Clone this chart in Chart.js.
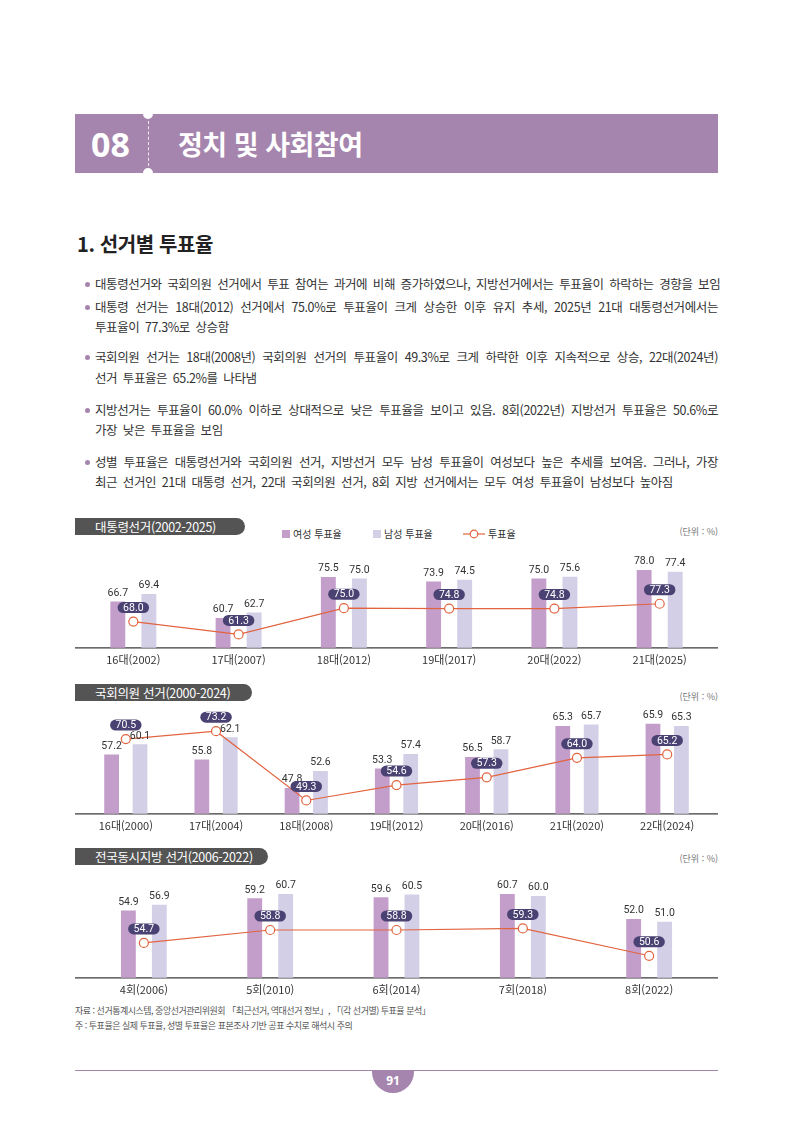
<!DOCTYPE html>
<html lang="ko">
<head>
<meta charset="utf-8">
<title>정치 및 사회참여</title>
<script src="https://cdn.jsdelivr.net/npm/chart.js@4.4.1/dist/chart.umd.min.js"></script>
<style>
  body { margin: 0; background: #fff; font-family: "Noto Sans CJK KR", sans-serif; color: #333; }
  .page { position: relative; width: 794px; height: 1123px; overflow: hidden; }
  .abs { position: absolute; }
  .band { left: 75px; top: 114px; width: 643px; height: 59px; background: #a585ad; }
  .notch { width: 10px; height: 10px; border-radius: 50%; background: #fff; left: 143px; }
  .dash { left: 148px; top: 121px; height: 45px; border-left: 1px dashed #f3eaf5; }
  .num { left: 91px; top: 120px; font-family: "Noto Sans", sans-serif; font-weight: 700; font-size: 34px; line-height: 48px; color: #fff; }
  .title { left: 178px; top: 124px; font-weight: 700; font-size: 27px; line-height: 40px; color: #fff; letter-spacing: -0.5px; }
  .heading { left: 77px; top: 230px; font-weight: 700; font-size: 20px; line-height: 28px; color: #222; letter-spacing: -0.4px; }
  .line { left: 95px; width: 623px; height: 20px; line-height: 20px; font-size: 12.5px; letter-spacing: -0.4px; word-spacing: 2.5px; white-space: nowrap; color: #333; }
  .full { text-align: justify; text-align-last: justify; }
  .dot { left: 85px; width: 5px; height: 5px; border-radius: 50%; background: #a585ad; }
  .tag { left: 75px; height: 17px; background: #545454; color: #fff; font-size: 12.5px; line-height: 17px; padding-left: 20px; box-sizing: border-box; border-radius: 0 9px 9px 0; letter-spacing: -0.3px; }
  .unit { right: 76px; font-size: 9px; color: #777; line-height: 12px; }
  .legend { top: 528px; font-size: 10px; line-height: 12px; color: #333; }
  .sw { width: 8px; height: 8px; top: 530px; }
  .note { left: 75px; font-size: 9px; line-height: 12px; color: #555; letter-spacing: -0.5px; }
  .chartbox { left: 75px; width: 643px; }
</style>
</head>
<body>
<div class="page">
  <div class="abs band"></div>
  <div class="abs notch" style="top:109px"></div>
  <div class="abs notch" style="top:168px"></div>
  <div class="abs dash"></div>
  <div class="abs num">08</div>
  <div class="abs title">정치 및 사회참여</div>

  <div class="abs heading">1. 선거별 투표율</div>

  <div class="abs dot" style="top:281.5px"></div>
  <div class="abs line full" style="top:274px">대통령선거와 국회의원 선거에서 투표 참여는 과거에 비해 증가하였으나, 지방선거에서는 투표율이 하락하는 경향을 보임</div>

  <div class="abs dot" style="top:304.5px"></div>
  <div class="abs line full" style="top:297px">대통령 선거는 18대(2012) 선거에서 75.0%로 투표율이 크게 상승한 이후 유지 추세, 2025년 21대 대통령선거에서는</div>
  <div class="abs line" style="top:317px">투표율이 77.3%로 상승함</div>

  <div class="abs dot" style="top:354.5px"></div>
  <div class="abs line full" style="top:347px">국회의원 선거는 18대(2008년) 국회의원 선거의 투표율이 49.3%로 크게 하락한 이후 지속적으로 상승, 22대(2024년)</div>
  <div class="abs line" style="top:368px">선거 투표율은 65.2%를 나타냄</div>

  <div class="abs dot" style="top:407.5px"></div>
  <div class="abs line full" style="top:400px">지방선거는 투표율이 60.0% 이하로 상대적으로 낮은 투표율을 보이고 있음. 8회(2022년) 지방선거 투표율은 50.6%로</div>
  <div class="abs line" style="top:420px">가장 낮은 투표율을 보임</div>

  <div class="abs dot" style="top:459.5px"></div>
  <div class="abs line full" style="top:452px">성별 투표율은 대통령선거와 국회의원 선거, 지방선거 모두 남성 투표율이 여성보다 높은 추세를 보여옴. 그러나, 가장</div>
  <div class="abs line" style="top:472px">최근 선거인 21대 대통령 선거, 22대 국회의원 선거, 8회 지방 선거에서는 모두 여성 투표율이 남성보다 높아짐</div>

  <!-- 대통령선거 -->
  <div class="abs tag" style="top:518px;width:170px">대통령선거(2002-2025)</div>
  <div class="abs sw" style="left:282px;background:#c49ecb"></div>
  <div class="abs legend" style="left:293px">여성 투표율</div>
  <div class="abs sw" style="left:373px;background:#d3cfe7"></div>
  <div class="abs legend" style="left:384px">남성 투표율</div>
  <svg class="abs" style="left:462px;top:529px" width="24" height="10"><line x1="1" y1="5" x2="23" y2="5" stroke="#e2643f" stroke-width="1.2"/><circle cx="12" cy="5" r="3.8" fill="#fff" stroke="#e2643f" stroke-width="1.2"/></svg>
  <div class="abs legend" style="left:488px">투표율</div>
  <div class="abs unit" style="top:526px">(단위 : %)</div>
  <div class="abs chartbox" style="top:540px;height:131px"><canvas id="presChart"></canvas></div>

  <!-- 국회의원 선거 -->
  <div class="abs tag" style="top:684px;width:177px">국회의원 선거(2000-2024)</div>
  <div class="abs unit" style="top:691px">(단위 : %)</div>
  <div class="abs chartbox" style="top:700px;height:137px"><canvas id="assemChart"></canvas></div>

  <!-- 전국동시지방 선거 -->
  <div class="abs tag" style="top:848px;width:193px">전국동시지방 선거(2006-2022)</div>
  <div class="abs unit" style="top:853px">(단위 : %)</div>
  <div class="abs chartbox" style="top:868px;height:133px"><canvas id="localChart"></canvas></div>

  <div class="abs note" style="top:1005px">자료 : 선거통계시스템, 중앙선거관리위원회 「최근선거, 역대선거 정보」, 「(각 선거별) 투표율 분석」</div>
  <div class="abs note" style="top:1020px">주 : 투표율은 실제 투표율, 성별 투표율은 표본조사 기반 공표 수치로 해석시 주의</div>

  <div class="abs" style="left:75px;top:1070px;width:643px;height:1px;background:#a585ad"></div>
  <div class="abs" style="left:372px;top:1070px;width:42px;height:23px;border-radius:0 0 21px 21px;background:#a585ad;color:#fff;font-family:'Noto Sans',sans-serif;font-weight:700;font-size:12px;line-height:22px;text-align:center">91</div>
</div>

<script>
// 대통령선거(2002-2025)
const presLabels = ["16대(2002)", "17대(2007)", "18대(2012)", "19대(2017)", "20대(2022)", "21대(2025)"];
const presFemale = [66.7, 60.7, 75.5, 73.9, 75.0, 78.0];
const presMale = [69.4, 62.7, 75.0, 74.5, 75.6, 77.4];
const presTotal = [68.0, 61.3, 75.0, 74.8, 74.8, 77.3];

// 국회의원 선거(2000-2024)
const assemLabels = ["16대(2000)", "17대(2004)", "18대(2008)", "19대(2012)", "20대(2016)", "21대(2020)", "22대(2024)"];
const assemFemale = [57.2, 55.8, 47.8, 53.3, 56.5, 65.3, 65.9];
const assemMale = [60.1, 62.1, 52.6, 57.4, 58.7, 65.7, 65.3];
const assemTotal = [70.5, 73.2, 49.3, 54.6, 57.3, 64.0, 65.2];

// 전국동시지방 선거(2006-2022)
const localLabels = ["4회(2006)", "5회(2010)", "6회(2014)", "7회(2018)", "8회(2022)"];
const localFemale = [54.9, 59.2, 59.6, 60.7, 52.0];
const localMale = [56.9, 60.7, 60.5, 60.0, 51.0];
const localTotal = [54.7, 58.8, 58.8, 59.3, 50.6];

const femaleColor = "#c49ecb";
const maleColor = "#d3cfe7";
const lineColor = "#e2643f";
const pillColor = "#4a4272";
const numFont = '10.5px "Liberation Sans Narrow", Roboto, sans-serif';

// baseline across the whole width + value labels
const labelPlugin = {
  id: "valueLabels",
  beforeDatasetsDraw(chart) {
    const ctx = chart.ctx;
    const y = chart.chartArea.bottom;
    ctx.save();
    ctx.strokeStyle = "#3a3a3a";
    ctx.lineWidth = 1.3;
    ctx.beginPath();
    ctx.moveTo(0, y);
    ctx.lineTo(chart.width, y);
    ctx.stroke();
    ctx.restore();
  },
  afterDatasetsDraw(chart) {
    const ctx = chart.ctx;
    ctx.save();
    ctx.font = numFont;
    ctx.textAlign = "center";

    // bar values first
    chart.data.datasets.forEach((ds, i) => {
      if (ds.type === "line") return;
      chart.getDatasetMeta(i).data.forEach((el, j) => {
        ctx.fillStyle = "#333";
        ctx.textBaseline = "bottom";
        ctx.fillText(ds.data[j].toFixed(1), el.x, el.y - 3);
      });
    });

    // then the pills for the total line
    chart.data.datasets.forEach((ds, i) => {
      if (ds.type !== "line") return;
      chart.getDatasetMeta(i).data.forEach((el, j) => {
        const text = ds.data[j].toFixed(1);
        const w = ctx.measureText(text).width + 11;
        const cy = el.y - 14;
        ctx.fillStyle = pillColor;
        ctx.beginPath();
        ctx.roundRect(el.x - w / 2, cy - 5.5, w, 11, 5.5);
        ctx.fill();
        ctx.fillStyle = "#fff";
        ctx.textBaseline = "middle";
        ctx.fillText(text, el.x, cy + 0.5);
      });
    });
    ctx.restore();
  }
};

function makeChart(id, labels, female, male, total, opt) {
  return new Chart(document.getElementById(id), {
    type: "bar",
    data: {
      labels: labels,
      datasets: [
        {
          type: "line",
          label: "투표율",
          data: total,
          yAxisID: "y1",
          order: 0,
          borderColor: lineColor,
          borderWidth: 1.2,
          pointRadius: 4.5,
          pointBackgroundColor: "#fff",
          pointBorderColor: lineColor,
          pointBorderWidth: 1.2,
          tension: 0
        },
        {
          label: "여성 투표율",
          data: female,
          backgroundColor: femaleColor,
          order: 1,
          categoryPercentage: opt.cat,
          barPercentage: opt.bar
        },
        {
          label: "남성 투표율",
          data: male,
          backgroundColor: maleColor,
          order: 1,
          categoryPercentage: opt.cat,
          barPercentage: opt.bar
        }
      ]
    },
    options: {
      responsive: true,
      maintainAspectRatio: false,
      animation: false,
      layout: { padding: { left: opt.padL, right: opt.padR, top: 0, bottom: 0 } },
      plugins: {
        legend: { display: false },
        tooltip: { enabled: false }
      },
      scales: {
        x: {
          grid: { display: false, drawTicks: false },
          border: { display: false },
          ticks: {
            color: "#333",
            font: { family: '"Noto Sans CJK KR"', size: 11 },
            padding: 5,
            autoSkip: false,
            maxRotation: 0
          }
        },
        y: { display: false, min: opt.yMin, max: opt.yMax },
        y1: { display: false, min: opt.lMin, max: opt.lMax }
      }
    },
    plugins: [labelPlugin]
  });
}

makeChart("presChart", presLabels, presFemale, presMale, presTotal,
  { cat: 0.59, bar: 0.48, padL: 5, padR: 5, yMin: 50, yMax: 86.8, lMin: 54.3, lMax: 107.6 });

makeChart("assemChart", assemLabels, assemFemale, assemMale, assemTotal,
  { cat: 0.63, bar: 0.52, padL: 4, padR: 4, yMin: 40.5, yMax: 71.0, lMin: 44.7, lMax: 82.0 });

makeChart("localChart", localLabels, localFemale, localMale, localTotal,
  { cat: 0.49, bar: 0.48, padL: 1, padR: 2, yMin: 31.4, yMax: 67.8, lMin: 43.6, lMax: 76.7 });
</script>
</body>
</html>
